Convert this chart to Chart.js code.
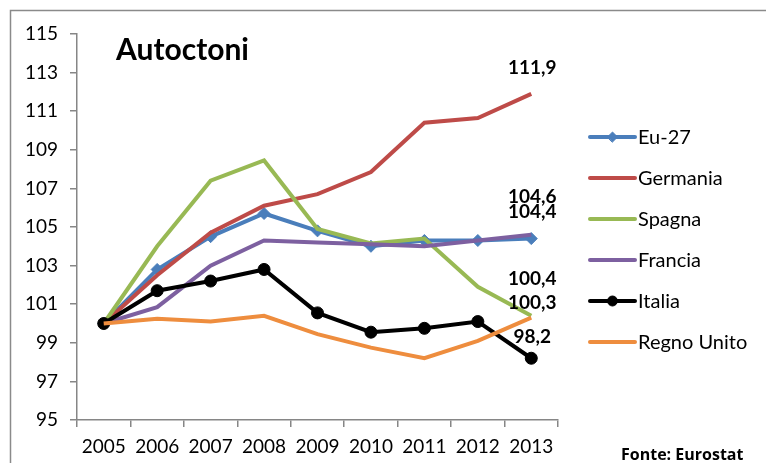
<!DOCTYPE html>
<html>
<head>
<meta charset="utf-8">
<title>Autoctoni</title>
<script src="https://cdn.jsdelivr.net/npm/chart.js@4.4.0/dist/chart.umd.min.js"></script>
<style>
  html, body { margin: 0; padding: 0; background: #fff; }
  #wrap { position: relative; width: 766px; height: 463px; }
</style>
</head>
<body>
<div id="wrap"><canvas id="chart" width="766" height="463"></canvas></div>
<script>
/* ── Data (index 2005 = 100) ── */
const years      = ['2005', '2006', '2007', '2008', '2009', '2010', '2011', '2012', '2013'];
const eu27       = [100, 102.8, 104.5, 105.7, 104.8, 104.0, 104.3, 104.3, 104.4];
const germania   = [100, 102.5, 104.7, 106.1, 106.7, 107.85, 110.4, 110.65, 111.9];
const spagna     = [100, 104.0, 107.4, 108.45, 104.9, 104.15, 104.4, 101.9, 100.4];
const francia    = [100, 100.85, 103.0, 104.3, 104.2, 104.1, 104.0, 104.3, 104.6];
const italia     = [100, 101.7, 102.2, 102.8, 100.55, 99.55, 99.75, 100.1, 98.2];
const regnoUnito = [100, 100.25, 100.1, 100.4, 99.45, 98.75, 98.2, 99.1, 100.3];
const yTicks     = [95, 97, 99, 101, 103, 105, 107, 109, 111, 113, 115];

const FONT = "Lato, 'Open Sans', sans-serif";

/* ── Series styles ── */
const series = [
  { label: 'Eu-27',       data: eu27,       color: '#4A7EBB', marker: 'rectRot', radius: 6 },
  { label: 'Germania',    data: germania,   color: '#BE4B48', marker: false },
  { label: 'Spagna',      data: spagna,     color: '#98B954', marker: false },
  { label: 'Francia',     data: francia,    color: '#7D60A0', marker: false },
  { label: 'Italia',      data: italia,     color: '#000000', marker: 'circle',  radius: 6 },
  { label: 'Regno Unito', data: regnoUnito, color: '#EE8D3E', marker: false },
];

/* end-of-line value labels: dataset index + vertical nudge (px) */
const endLabels = [
  { ds: 1, dy: -26 },
  { ds: 3, dy: -38 },
  { ds: 0, dy: -27 },
  { ds: 2, dy: -37 },
  { ds: 5, dy: -15 },
  { ds: 4, dy: -21 },
];

/* ── Frame, title, source note ── */
const decorPlugin = {
  id: 'decor',
  beforeDraw(chart) {
    const ctx = chart.ctx;
    ctx.save();
    ctx.fillStyle = '#fff';
    ctx.fillRect(0, 0, chart.width, chart.height);
    ctx.strokeStyle = '#8a8a8a';
    ctx.lineWidth = 1.5;
    ctx.strokeRect(10.5, 10.5, chart.width + 20, chart.height + 20);
    ctx.restore();
  },
  afterDraw(chart) {
    const ctx = chart.ctx;
    ctx.save();
    ctx.fillStyle = '#000';
    ctx.textBaseline = 'middle';
    ctx.textAlign = 'left';
    ctx.font = 'bold 30px ' + FONT;
    ctx.fillText('Autoctoni', 116, 50);
    ctx.font = "bold 16px 'Open Sans', sans-serif";
    ctx.fillText('Fonte: Eurostat', 621, 455);
    ctx.restore();
  }
};

/* ── Value labels beside the 2013 points ── */
const endLabelPlugin = {
  id: 'endLabels',
  afterDatasetsDraw(chart) {
    const ctx = chart.ctx;
    ctx.save();
    ctx.font = 'bold 19px ' + FONT;
    ctx.fillStyle = '#000';
    ctx.textAlign = 'center';
    ctx.textBaseline = 'middle';
    endLabels.forEach(l => {
      const meta = chart.getDatasetMeta(l.ds);
      const pts  = meta.data;
      const last = pts[pts.length - 1];
      const v    = chart.data.datasets[l.ds].data[pts.length - 1];
      ctx.fillText(v.toFixed(1).replace('.', ','), last.x + 1, last.y + l.dy);
    });
    ctx.restore();
  }
};

/* ── Legend: line swatch with optional marker ── */
const legendPlugin = {
  id: 'sideLegend',
  afterDraw(chart) {
    const ctx = chart.ctx;
    const x0 = 590, x1 = 635, top = 137, step = 41;
    ctx.save();
    ctx.font = '20px ' + FONT;
    ctx.textBaseline = 'middle';
    ctx.textAlign = 'left';
    series.forEach((s, i) => {
      const y = top + i * step;
      ctx.strokeStyle = s.color;
      ctx.lineWidth = 4;
      ctx.lineCap = 'round';
      ctx.beginPath();
      ctx.moveTo(x0, y);
      ctx.lineTo(x1, y);
      ctx.stroke();
      if (s.marker) {
        ctx.fillStyle = s.color;
        ctx.lineWidth = 1;
        Chart.helpers.drawPoint(ctx, {
          pointStyle: s.marker, radius: s.radius - 1, borderWidth: 1, rotation: 0
        }, (x0 + x1) / 2, y);
      }
      ctx.fillStyle = '#000';
      ctx.fillText(s.label, 638, y + 1);
    });
    ctx.restore();
  }
};

new Chart(document.getElementById('chart'), {
  type: 'line',
  data: {
    labels: years,
    datasets: series.map((s, i) => ({
      label:                s.label,
      data:                 s.data,
      borderColor:          s.color,
      backgroundColor:      s.color,
      borderWidth:          4,
      pointStyle:           s.marker || 'circle',
      pointRadius:          s.marker ? s.radius : 0,
      pointBackgroundColor: s.color,
      pointBorderColor:     s.color,
      pointBorderWidth:     1,
      tension:              0,
      fill:                 false,
      order:                series.length - i,
    }))
  },
  plugins: [decorPlugin, endLabelPlugin, legendPlugin],
  options: {
    responsive: false,
    animation: false,
    layout: { padding: { left: 10, top: 34, right: 208, bottom: 0 } },
    plugins: {
      legend:  { display: false },
      title:   { display: false },
      tooltip: { enabled: false },
    },
    scales: {
      x: {
        offset: true,
        grid:   { offset: true, drawOnChartArea: false, drawTicks: true, tickLength: 7, color: '#868686', lineWidth: 1.5 },
        border: { color: '#868686', width: 1.5 },
        ticks:  { color: '#000', padding: 8, maxRotation: 0, font: { family: FONT, size: 19 } },
        afterFit(scale) { scale.height = 43; },
      },
      y: {
        min: 95,
        max: 115,
        afterBuildTicks(scale) { scale.ticks = yTicks.map(v => ({ value: v })); },
        grid:   { drawOnChartArea: false, drawTicks: true, tickLength: 7, color: '#868686', lineWidth: 1.5 },
        border: { color: '#868686', width: 1.5 },
        ticks:  { color: '#000', padding: 12, font: { family: FONT, size: 19 } },
        afterFit(scale) { scale.width = 67; },
      }
    }
  }
});
</script>
</body>
</html>
